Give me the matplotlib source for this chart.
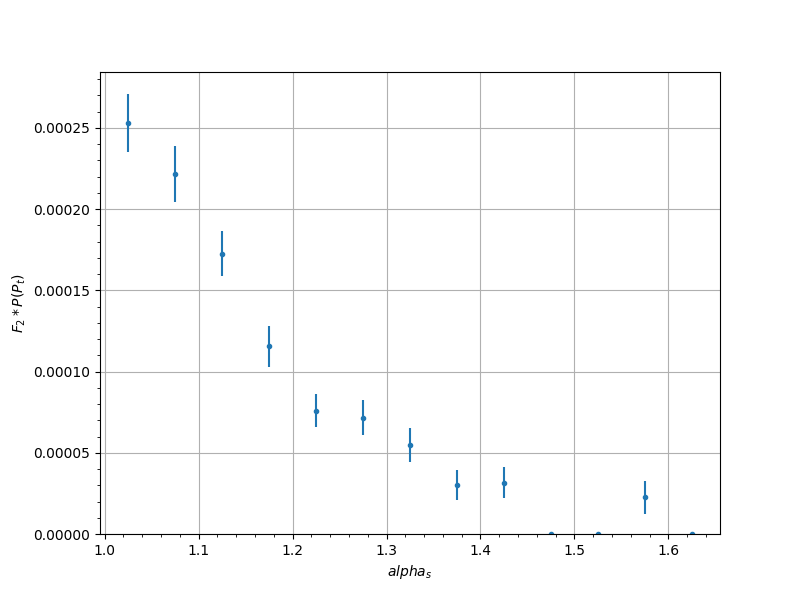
import matplotlib
matplotlib.use("Agg")
import matplotlib.pyplot as plt
import numpy as np

alpha_s = [1.025, 1.075, 1.125, 1.175, 1.225, 1.275, 1.325, 1.375, 1.425, 1.475, 1.525, 1.575, 1.625]
values = [2.53e-4, 2.215e-4, 1.725e-4, 1.155e-4, 7.6e-5, 7.15e-5, 5.5e-5, 3.0e-5, 3.15e-5, 0.0, 0.0, 2.25e-5, 0.0]
errors = [1.78e-5, 1.7e-5, 1.4e-5, 1.27e-5, 1.02e-5, 1.07e-5, 1.05e-5, 0.92e-5, 0.96e-5, 0.0, 0.0, 1.0e-5, 0.0]

fig, ax = plt.subplots(figsize=(8, 6), dpi=100)
ax.errorbar(alpha_s, values, yerr=errors, fmt='.')
ax.set_ylim(bottom=0)
ax.minorticks_on()
ax.grid(True, which='major')
ax.set_xlabel('$alpha_s$')
ax.set_ylabel('$F_2*P(P_t)$')
fig.savefig('out.png')
